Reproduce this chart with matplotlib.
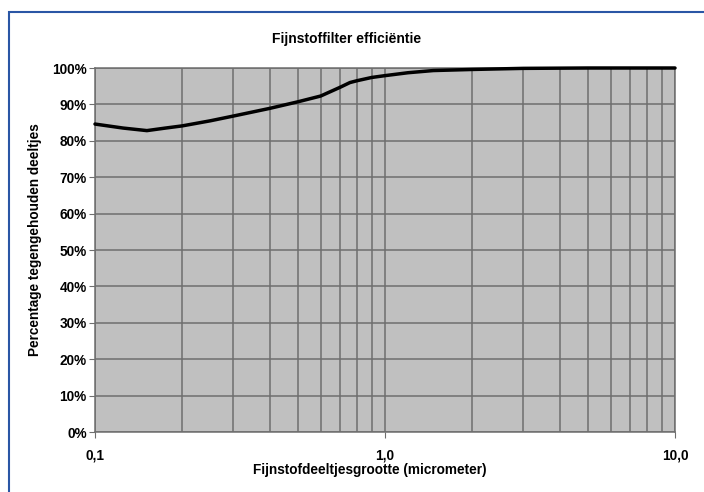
import matplotlib.pyplot as plt
from matplotlib.patches import Rectangle
from matplotlib.ticker import FixedLocator, FuncFormatter, NullFormatter

plt.rcParams['font.family'] = ['Liberation Sans', 'DejaVu Sans']

deeltjes = [0.1, 0.125, 0.151, 0.175, 0.2, 0.25, 0.3, 0.4, 0.5, 0.6, 0.7,
            0.757, 0.8, 0.9, 1.0, 1.2, 1.468, 2.0, 3.0, 5.0, 10.0]
efficientie = [84.6, 83.5, 82.8, 83.5, 84.1, 85.5, 86.8, 88.9, 90.7, 92.3, 94.7,
               96.0, 96.5, 97.4, 97.9, 98.7, 99.3, 99.6, 99.9, 100.0, 100.0]

x_ticks = [0.1, 1.0, 10.0]
x_labels = ['0,1', '1,0', '10,0']
y_ticks = list(range(0, 101, 10))

fig = plt.figure(figsize=(7.04, 4.92), dpi=100)
ax = fig.add_axes([95 / 704, 1 - 432 / 492, 580 / 704, 364 / 492])

# blauwe rand rond de figuur
fig.patches.append(Rectangle((9 / 704, -0.1), 1.2, 1 - 12 / 492 + 0.1,
                             transform=fig.transFigure, fill=False,
                             edgecolor='#2a56a5', linewidth=1.5))

ax.set_facecolor('#c0c0c0')
ax.plot(deeltjes, efficientie, color='black', linewidth=2.5,
        solid_joinstyle='round', solid_capstyle='round', zorder=3, clip_on=False)

ax.set_xscale('log')
ax.set_xlim(0.1, 10)
ax.set_ylim(0, 100)

ax.xaxis.set_major_locator(FixedLocator(x_ticks))
ax.xaxis.set_major_formatter(FuncFormatter(lambda v, p: x_labels[x_ticks.index(v)] if v in x_ticks else ''))
minor = [m * d for d in (0.1, 1.0) for m in range(2, 10)]
ax.xaxis.set_minor_locator(FixedLocator(minor))
ax.xaxis.set_minor_formatter(NullFormatter())
ax.set_yticks(y_ticks)
ax.set_yticklabels([f'{v}%' for v in y_ticks])

ax.grid(True, which='both', color='#6e6e6e', linewidth=1.1)
ax.set_axisbelow(True)
for s in ax.spines.values():
    s.set_color('#6e6e6e')
    s.set_linewidth(1.1)

ax.tick_params(axis='both', which='major', length=4, color='#6e6e6e',
               labelsize=9.8, pad=2)
ax.tick_params(axis='x', which='major', pad=8)
ax.tick_params(axis='x', which='minor', length=0)
for lab in ax.get_xticklabels() + ax.get_yticklabels():
    lab.set_fontweight('bold')

fig.text(347 / 704, 1 - 39 / 492, 'Fijnstoffilter efficiëntie', ha='center',
         va='center', fontsize=10, fontweight='bold')
fig.text(370 / 704, 1 - 470 / 492, 'Fijnstofdeeltjesgrootte (micrometer)',
         ha='center', va='center', fontsize=9.8, fontweight='bold')
fig.text(35 / 704, 1 - 240 / 492, 'Percentage tegengehouden deeltjes',
         ha='center', va='center', rotation=90, fontsize=9.8, fontweight='bold')

fig.savefig('out.png', dpi=100)
